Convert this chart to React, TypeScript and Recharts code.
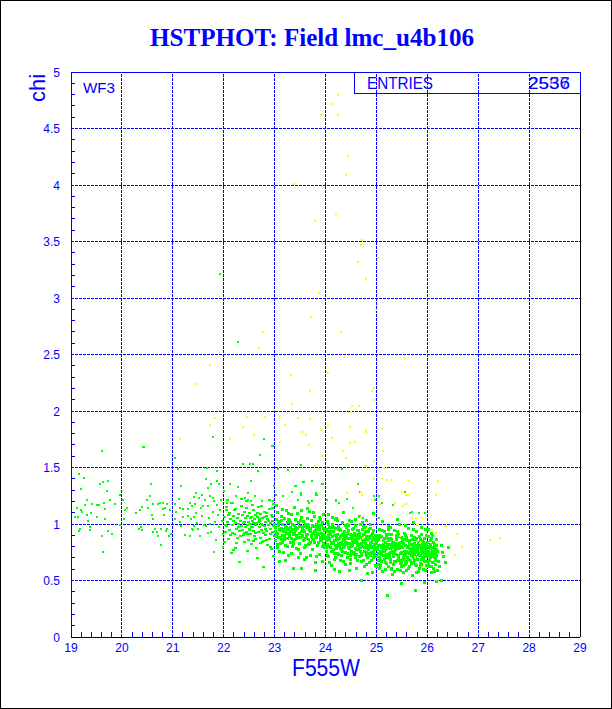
import React from 'react';
import { ScatterChart, Scatter, XAxis, YAxis, ReferenceLine } from 'recharts';

const W = 612;
const H = 709;
const BLUE = '#0000ff';
const FONT = '"Liberation Sans", Arial, sans-serif';

const xGrid = [20, 21, 22, 23, 24, 25, 26, 27, 28];
const yGrid = [0.5, 1, 1.5, 2, 2.5, 3, 3.5, 4, 4.5];

// flat [x, y, x, y, ...] lists
const greenLeft = [
  19.60,1.65, 20.43,1.68, 21.04,1.58, 21.11,1.49, 19.16,1.44, 19.25,1.41, 19.56,1.35, 19.63,1.37, 19.72,1.38, 20.57,1.35,
  21.16,1.34, 19.71,1.29, 19.20,1.31, 19.96,1.26, 20.55,1.25, 19.76,1.21, 19.31,1.21, 19.64,1.19, 19.86,1.18, 19.41,1.18,
  19.51,1.17, 19.55,1.17, 19.28,1.17, 19.12,1.14, 19.20,1.12, 19.22,1.11, 19.39,1.10, 19.67,1.13, 19.31,1.08, 19.08,1.06,
  19.13,1.06, 19.51,1.06, 19.33,1.03, 19.67,1.04, 20.03,1.21, 20.11,1.14, 20.06,1.12, 20.05,1.04, 19.96,0.99, 20.27,1.10,
  20.35,1.12, 20.39,1.15, 20.49,1.21, 20.61,1.18, 20.52,1.14, 20.70,1.18, 20.75,1.19, 20.81,1.19, 20.59,1.08, 20.62,1.04,
  20.81,1.13, 20.85,1.14, 20.89,1.18, 20.82,1.08, 20.94,1.12, 21.04,1.18, 21.12,1.22, 21.06,1.11, 21.14,1.14, 21.21,1.13,
  21.29,1.13, 21.34,1.19, 21.38,1.16, 21.20,1.06, 21.30,1.07, 21.41,1.06, 21.04,1.04, 21.14,1.02, 19.17,0.96, 19.38,0.97,
  19.37,0.95, 19.73,0.94, 19.80,0.91, 19.16,0.94, 19.60,0.89, 19.63,0.75, 20.34,0.96, 20.38,0.97, 20.39,0.95, 20.65,0.96,
  20.77,0.96, 20.89,0.96, 20.61,0.93, 20.68,0.93, 20.86,0.94, 20.70,0.89, 20.96,0.91, 20.93,0.89, 20.77,0.81, 21.16,0.98,
  21.24,0.90, 21.34,0.89, 21.37,0.96, 21.42,0.98,
];

const greenUpper = [
  21.78,1.77, 22.96,1.69, 22.79,1.75, 22.71,1.61, 22.37,1.53, 22.52,1.53, 22.58,1.53, 23.52,1.52, 23.26,1.48, 23.07,1.49,
  21.86,1.47, 21.68,1.50, 22.67,1.47, 21.65,1.40, 21.86,1.38, 21.90,1.35, 21.76,1.35, 22.12,1.35, 22.53,1.38, 23.58,1.37,
  22.99,1.34, 23.42,1.34, 21.69,1.32, 22.29,1.33, 22.01,1.29, 23.34,1.28, 22.48,1.27, 21.46,1.27, 21.57,1.26, 21.42,1.24,
  21.52,1.23, 21.73,1.25, 22.24,1.25, 22.41,1.23, 22.62,1.25, 23.03,1.26, 23.17,1.25, 23.51,1.26, 23.83,1.26, 21.64,1.21,
  21.78,1.23, 21.81,1.20, 21.94,1.21, 22.07,1.19, 22.18,1.19, 22.48,1.21, 22.54,1.20, 22.75,1.20, 22.96,1.20, 23.45,1.21,
  23.66,1.20, 23.73,1.20, 24.32,1.49, 23.96,1.35, 23.82,1.26, 24.63,1.35, 24.67,1.28, 24.95,1.25, 24.97,1.21, 25.56,1.28,
  25.69,1.11, 24.02,1.21, 24.20,1.21, 24.43,1.22, 24.55,1.14, 23.73,1.38, 23.56,1.37, 23.41,1.34, 23.94,1.35, 23.51,1.27,
  23.82,1.27, 24.21,1.20, 24.26,1.19, 23.67,1.19, 25.06,1.25, 25.11,1.19, 25.33,1.17, 25.66,1.10, 25.84,1.10, 25.96,1.10,
  25.06,1.05, 24.74,1.05, 22.29,2.61, 21.93,3.21, 22.95,1.69, 20.42,1.68,
];

const green21 = [
  21.36,1.04, 21.40,0.95, 21.45,1.10, 21.48,1.01, 21.53,0.89, 21.55,1.14, 21.58,1.07, 21.62,0.99, 21.66,0.98, 21.70,1.16,
  21.72,1.05, 21.75,0.93, 21.78,1.11, 21.80,0.75, 21.83,1.02, 21.85,0.86, 21.88,1.08, 21.91,0.97, 21.93,1.12, 21.96,1.03,
  21.99,0.80, 21.98,0.91, 21.43,1.18, 21.60,1.16, 21.69,0.92, 21.86,1.17, 21.50,0.96, 21.74,1.00,
];

const green22 = [
  22.02,1.06, 22.03,0.93, 22.05,1.15, 22.06,0.98, 22.08,1.02, 22.09,0.87, 22.11,1.10, 22.12,0.95, 22.14,1.04, 22.15,0.74,
  22.16,1.19, 22.18,0.99, 22.19,0.77, 22.20,1.07, 22.21,0.91, 22.23,1.01, 22.24,1.13, 22.25,0.96, 22.27,1.05, 22.28,0.88,
  22.29,1.09, 22.31,0.94, 22.32,0.66, 22.33,1.03, 22.34,1.16, 22.35,0.98, 22.37,1.08, 22.38,0.90, 22.39,1.01, 22.40,0.84,
  22.41,1.11, 22.42,0.97, 22.43,1.05, 22.44,0.93, 22.45,1.14, 22.46,0.99, 22.47,1.07, 22.48,0.86, 22.49,1.02, 22.50,0.95,
  22.51,1.10, 22.52,1.00, 22.53,0.91, 22.54,1.06, 22.55,0.82, 22.56,1.03, 22.57,0.97, 22.58,1.12, 22.59,0.94, 22.60,1.04,
  22.61,0.89, 22.62,1.08, 22.63,0.99, 22.64,0.79, 22.65,1.01, 22.66,0.70, 22.67,1.06, 22.68,0.93, 22.69,1.15, 22.70,0.97,
  22.71,1.03, 22.72,0.88, 22.73,1.09, 22.74,0.95, 22.75,1.00, 22.76,0.84, 22.77,1.05, 22.78,0.92, 22.79,0.62, 22.80,1.11,
  22.81,0.98, 22.82,1.02, 22.83,0.90, 22.84,1.07, 22.85,0.94, 22.86,0.81, 22.87,1.04, 22.88,0.99, 22.89,1.13, 22.90,0.87,
  22.91,1.01, 22.92,0.96, 22.93,1.08, 22.94,0.78, 22.95,1.03, 22.96,0.93, 22.97,1.18, 22.98,0.98, 22.99,0.89,
  22.04,0.99, 22.10,1.08, 22.17,0.92, 22.22,1.12, 22.26,0.83, 22.30,1.00, 22.36,0.95, 22.41,1.02, 22.44,1.20, 22.47,0.91,
  22.52,1.05, 22.55,0.97, 22.59,1.01, 22.62,0.92, 22.66,1.10, 22.70,1.04, 22.73,0.83, 22.77,0.99, 22.81,1.06, 22.84,0.86,
  22.88,1.03, 22.92,0.91, 22.96,1.06, 22.99,1.00,
  22.01,0.84, 22.07,1.21, 22.13,0.90, 22.19,1.03, 22.24,0.79, 22.29,0.97, 22.35,1.22, 22.40,0.92, 22.46,0.76, 22.51,0.96,
  22.57,1.17, 22.63,0.87, 22.68,1.02, 22.74,1.16, 22.79,0.85, 22.85,1.10, 22.91,0.80, 22.95,1.14, 22.98,0.72, 22.06,1.12,
  22.33,0.89, 22.58,0.85, 22.83,0.96, 22.90,1.21,
];

const green23 = [
  23.01,0.97, 23.02,0.85, 23.03,1.04, 23.04,0.91, 23.05,1.10, 23.06,0.79, 23.07,0.99, 23.08,0.88, 23.09,0.67, 23.10,1.02,
  23.11,0.94, 23.12,0.83, 23.13,1.07, 23.14,0.96, 23.15,0.90, 23.16,1.00, 23.17,0.75, 23.18,0.93, 23.19,1.05, 23.20,0.86,
  23.21,0.98, 23.22,0.81, 23.23,1.12, 23.24,0.92, 23.25,1.01, 23.26,0.87, 23.27,0.95, 23.28,0.72, 23.29,1.03, 23.30,0.89,
  23.31,0.97, 23.32,0.84, 23.33,1.08, 23.34,0.93, 23.35,0.80, 23.36,1.00, 23.37,0.61, 23.38,0.91, 23.39,0.99, 23.40,0.86,
  23.41,1.04, 23.42,0.94, 23.43,0.78, 23.44,0.96, 23.45,1.09, 23.46,0.88, 23.47,1.01, 23.48,0.83, 23.49,0.92, 23.50,0.98,
  23.51,0.74, 23.52,0.61, 23.53,1.06, 23.54,0.90, 23.55,0.95, 23.56,0.85, 23.57,1.02, 23.58,0.79, 23.59,0.93, 23.60,1.00,
  23.61,0.87, 23.62,0.97, 23.63,0.70, 23.64,1.05, 23.65,0.91, 23.66,0.82, 23.67,0.99, 23.68,0.94, 23.69,1.11, 23.70,0.84,
  23.71,0.96, 23.72,0.89, 23.73,1.03, 23.74,0.77, 23.75,0.92, 23.76,0.98, 23.77,0.86, 23.78,1.07, 23.79,0.93, 23.80,0.66,
  23.81,0.59, 23.82,1.00, 23.83,0.88, 23.84,0.95, 23.85,0.81, 23.86,1.02, 23.87,0.91, 23.88,0.97, 23.89,0.73, 23.90,0.85,
  23.91,1.04, 23.92,0.92, 23.93,0.99, 23.94,0.80, 23.95,0.89, 23.96,0.96, 23.97,1.08, 23.98,0.87, 23.99,0.94,
  23.02,0.93, 23.05,0.82, 23.08,1.01, 23.11,0.88, 23.14,1.03, 23.17,0.95, 23.20,0.90, 23.23,0.97, 23.26,0.80, 23.29,0.92,
  23.32,1.01, 23.35,0.95, 23.38,0.85, 23.41,0.97, 23.44,0.90, 23.47,0.77, 23.50,1.03, 23.53,0.93, 23.56,0.98, 23.59,0.86,
  23.62,0.91, 23.65,1.00, 23.68,0.83, 23.71,0.93, 23.74,0.99, 23.77,0.92, 23.80,0.90, 23.83,0.97, 23.86,0.84, 23.89,0.95,
  23.92,0.87, 23.95,1.01, 23.98,0.79, 23.03,0.89, 23.09,0.95, 23.15,0.84, 23.21,0.93, 23.27,1.04, 23.33,0.87, 23.39,0.92,
  23.45,0.96, 23.51,0.88, 23.57,0.94, 23.63,0.89, 23.69,0.96, 23.75,0.86, 23.81,0.94, 23.87,0.99, 23.93,0.85, 23.99,0.91,
  23.04,1.16, 23.10,0.76, 23.16,1.13, 23.22,0.68, 23.28,1.09, 23.34,0.74, 23.40,1.15, 23.46,0.70, 23.52,1.12, 23.58,0.69,
  23.64,1.14, 23.70,0.72, 23.76,1.10, 23.82,0.71, 23.88,1.06, 23.94,0.67, 23.13,0.86, 23.25,0.96, 23.37,0.83, 23.49,0.98,
  23.61,0.81, 23.73,0.90, 23.85,0.92, 23.97,0.83, 23.06,0.92, 23.19,0.88, 23.31,0.93, 23.43,0.87, 23.55,0.89, 23.67,0.86,
  23.79,0.84, 23.91,0.88,
];

const green24 = [
  24.00,0.88, 24.01,0.76, 24.02,0.95, 24.03,0.82, 24.04,1.02, 24.05,0.90, 24.06,0.71, 24.07,0.86, 24.08,0.97, 24.09,0.79,
  24.10,0.92, 24.11,0.84, 24.12,0.63, 24.13,0.89, 24.14,1.00, 24.15,0.77, 24.16,0.93, 24.17,0.85, 24.18,0.69, 24.19,0.96,
  24.20,0.81, 24.21,0.88, 24.22,1.05, 24.23,0.74, 24.24,0.91, 24.25,0.83, 24.26,0.98, 24.27,0.58, 24.28,0.87, 24.29,0.78,
  24.30,0.94, 24.31,0.72, 24.32,0.90, 24.33,0.82, 24.34,1.01, 24.35,0.86, 24.36,0.67, 24.37,0.93, 24.38,0.80, 24.39,0.89,
  24.40,0.75, 24.41,0.97, 24.42,0.84, 24.43,0.92, 24.44,0.70, 24.45,0.87, 24.46,0.79, 24.47,1.03, 24.48,0.83, 24.49,0.91,
  24.50,0.65, 24.51,0.88, 24.52,0.76, 24.53,0.95, 24.54,0.81, 24.55,0.90, 24.56,0.73, 24.57,0.86, 24.58,0.99, 24.59,0.78,
  24.60,0.89, 24.61,0.61, 24.62,0.84, 24.63,0.94, 24.64,0.77, 24.65,0.87, 24.66,0.71, 24.67,0.92, 24.68,0.82, 24.69,1.00,
  24.70,0.74, 24.71,0.88, 24.72,0.80, 24.73,0.95, 24.74,0.68, 24.75,0.85, 24.76,0.91, 24.77,0.76, 24.78,0.83, 24.79,0.97,
  24.80,0.72, 24.81,0.89, 24.82,0.56, 24.83,0.81, 24.84,0.93, 24.85,0.78, 24.86,0.87, 24.87,0.66, 24.88,0.84, 24.89,0.96,
  24.90,0.75, 24.91,0.90, 24.92,0.80, 24.93,0.86, 24.94,0.70, 24.95,0.94, 24.96,0.82, 24.97,0.88, 24.98,0.63, 24.99,0.79,
  24.01,0.85, 24.03,0.93, 24.06,0.80, 24.08,0.87, 24.11,0.76, 24.13,0.97, 24.16,0.83, 24.18,0.90, 24.21,0.78, 24.23,0.86,
  24.26,0.73, 24.28,0.95, 24.31,0.84, 24.33,0.91, 24.36,0.79, 24.38,0.88, 24.41,0.82, 24.43,0.74, 24.46,0.94, 24.48,0.87,
  24.51,0.80, 24.53,0.85, 24.56,0.92, 24.58,0.70, 24.61,0.86, 24.63,0.81, 24.66,0.90, 24.68,0.76, 24.71,0.83, 24.73,0.88,
  24.76,0.79, 24.78,0.93, 24.81,0.75, 24.83,0.86, 24.86,0.81, 24.88,0.72, 24.91,0.84, 24.93,0.92, 24.96,0.77, 24.98,0.85,
  24.02,0.79, 24.07,0.91, 24.12,0.83, 24.17,0.74, 24.22,0.89, 24.27,0.81, 24.32,0.77, 24.37,0.85, 24.42,0.90, 24.47,0.78,
  24.52,0.83, 24.57,0.75, 24.62,0.91, 24.67,0.80, 24.72,0.86, 24.77,0.84, 24.82,0.78, 24.87,0.89, 24.92,0.74, 24.97,0.81,
  24.05,1.08, 24.19,1.04, 24.35,1.10, 24.52,1.02, 24.66,1.07, 24.80,1.03, 24.94,1.09, 24.44,1.00, 24.13,1.06,
  24.00,0.81, 24.04,0.87, 24.09,0.93, 24.14,0.76, 24.19,0.85, 24.24,0.80, 24.29,0.89, 24.34,0.76, 24.39,0.83, 24.44,0.87,
  24.49,0.72, 24.54,0.88, 24.59,0.84, 24.64,0.82, 24.69,0.79, 24.74,0.91, 24.79,0.86, 24.84,0.77, 24.89,0.82, 24.94,0.87,
  24.99,0.90, 24.03,0.72, 24.08,0.66, 24.15,0.97, 24.20,0.70, 24.25,0.95, 24.30,0.68, 24.35,0.92, 24.40,0.64, 24.45,0.99,
  24.50,0.69, 24.55,0.96, 24.60,0.73, 24.65,0.94, 24.70,0.67, 24.75,0.98, 24.80,0.64, 24.85,0.95, 24.90,0.68, 24.95,0.76,
  24.98,0.71, 24.06,1.00, 24.24,1.03, 24.39,0.99, 24.58,1.04, 24.72,1.01, 24.88,1.00, 24.17,0.60, 24.47,0.59, 24.77,0.62,
  24.93,0.57, 24.51,0.74, 24.56,0.84, 24.61,0.77, 24.66,0.81, 24.71,0.72, 24.76,0.86, 24.81,0.80, 24.86,0.74, 24.91,0.79,
  24.96,0.73, 24.63,0.68, 24.83,0.70,
];

const green25 = [
  25.00,0.83, 25.01,0.71, 25.02,0.90, 25.03,0.77, 25.04,0.64, 25.05,0.86, 25.06,0.95, 25.07,0.74, 25.08,0.81, 25.09,0.68,
  25.10,0.89, 25.11,0.79, 25.12,0.58, 25.13,0.85, 25.14,0.72, 25.15,0.93, 25.16,0.76, 25.17,0.84, 25.18,0.66, 25.19,0.80,
  25.20,0.88, 25.21,0.70, 25.22,0.78, 25.23,0.98, 25.24,0.62, 25.25,0.82, 25.26,0.74, 25.27,0.87, 25.28,0.69, 25.29,0.79,
  25.30,0.91, 25.31,0.75, 25.32,0.55, 25.33,0.84, 25.34,0.71, 25.35,0.80, 25.36,0.94, 25.37,0.67, 25.38,0.77, 25.39,0.86,
  25.40,0.73, 25.41,0.60, 25.42,0.82, 25.43,0.89, 25.44,0.70, 25.45,0.78, 25.46,1.00, 25.47,0.65, 25.48,0.84, 25.49,0.75,
  25.50,0.88, 25.51,0.69, 25.52,0.79, 25.53,0.57, 25.54,0.83, 25.55,0.92, 25.56,0.72, 25.57,0.81, 25.58,0.64, 25.59,0.76,
  25.60,0.87, 25.61,0.70, 25.62,0.80, 25.63,0.96, 25.64,0.61, 25.65,0.74, 25.66,0.85, 25.67,0.68, 25.68,0.78, 25.69,0.90,
  25.70,0.73, 25.71,0.54, 25.72,0.82, 25.73,0.66, 25.74,0.77, 25.75,0.88, 25.76,0.71, 25.77,0.80, 25.78,0.63, 25.79,0.93,
  25.80,0.75, 25.81,0.69, 25.82,0.84, 25.83,0.58, 25.84,0.79, 25.85,0.72, 25.86,0.86, 25.87,0.65, 25.88,0.76, 25.89,0.91,
  25.90,0.70, 25.91,0.81, 25.92,0.60, 25.93,0.74, 25.94,0.87, 25.95,0.67, 25.96,0.78, 25.97,0.95, 25.98,0.63, 25.99,0.83,
  26.00,0.71, 26.01,0.76, 26.02,0.89, 26.03,0.62, 26.04,0.80, 26.05,0.68, 26.06,0.85, 26.07,0.73, 26.08,0.57, 26.09,0.79,
  26.10,0.66, 26.11,0.90, 26.12,0.74, 26.13,0.61, 26.14,0.82, 26.15,0.70, 26.16,0.77, 26.17,0.64, 26.18,0.86, 26.19,0.72,
  26.20,0.59,
  25.02,0.79, 25.05,0.68, 25.08,0.88, 25.11,0.73, 25.14,0.82, 25.17,0.77, 25.20,0.65, 25.23,0.85, 25.26,0.70, 25.29,0.86,
  25.32,0.76, 25.35,0.67, 25.38,0.83, 25.41,0.78, 25.44,0.91, 25.47,0.74, 25.50,0.80, 25.53,0.70, 25.56,0.86, 25.59,0.66,
  25.62,0.75, 25.65,0.83, 25.68,0.72, 25.71,0.79, 25.74,0.68, 25.77,0.86, 25.80,0.81, 25.83,0.74, 25.86,0.63, 25.89,0.78,
  25.92,0.84, 25.95,0.73, 25.98,0.80, 26.01,0.67, 26.04,0.75, 26.07,0.82, 26.10,0.71, 26.13,0.78, 26.16,0.68,
  25.03,0.87, 25.09,0.76, 25.15,0.69, 25.21,0.81, 25.27,0.78, 25.33,0.72, 25.39,0.79, 25.45,0.68, 25.51,0.85, 25.57,0.74,
  25.63,0.80, 25.69,0.76, 25.75,0.83, 25.81,0.77, 25.87,0.82, 25.93,0.69, 25.99,0.74, 26.05,0.79, 26.11,0.76, 26.17,0.73,
  25.12,1.02, 25.28,0.97, 25.42,1.04, 25.58,0.99, 25.73,1.01, 25.88,0.97, 26.03,0.95, 26.22,0.67, 26.24,0.62, 26.27,0.81,
  26.32,0.71, 26.18,0.77, 26.29,0.75, 26.35,0.66, 26.18,0.49, 26.27,0.50, 25.21,0.37, 25.76,0.41, 25.50,0.47, 24.71,0.50,
  25.95,0.48, 26.41,0.79,
  25.00,0.77, 25.04,0.81, 25.07,0.90, 25.10,0.67, 25.13,0.78, 25.16,0.87, 25.19,0.73, 25.22,0.82, 25.25,0.91, 25.28,0.75,
  25.31,0.84, 25.34,0.64, 25.37,0.79, 25.40,0.88, 25.43,0.72, 25.46,0.81, 25.49,0.66, 25.52,0.85, 25.55,0.76, 25.58,0.90,
  25.61,0.79, 25.64,0.69, 25.67,0.82, 25.70,0.86, 25.73,0.75, 25.76,0.64, 25.79,0.80, 25.82,0.73, 25.85,0.89, 25.88,0.69,
  25.91,0.75, 25.94,0.80, 25.97,0.71, 26.00,0.84, 26.03,0.76, 26.06,0.70, 26.09,0.87, 26.12,0.66, 26.15,0.80, 26.19,0.81,
  25.01,0.62, 25.06,0.61, 25.12,0.94, 25.18,0.60, 25.24,0.95, 25.30,0.61, 25.36,0.58, 25.42,0.93, 25.48,0.59, 25.54,0.63,
  25.60,0.59, 25.66,0.62, 25.72,0.95, 25.78,0.57, 25.84,0.61, 25.90,0.85, 25.96,0.59, 26.02,0.64, 26.08,0.92, 26.14,0.58,
  26.20,0.76, 25.05,0.74, 25.15,0.80, 25.25,0.71, 25.35,0.76, 25.45,0.83, 25.55,0.69, 25.65,0.78, 25.75,0.73, 25.85,0.80,
  25.95,0.76, 26.05,0.73, 26.15,0.75,
  25.02,0.85, 25.07,0.70, 25.12,0.76, 25.17,0.71, 25.22,0.87, 25.27,0.66, 25.32,0.81, 25.37,0.73, 25.42,0.68, 25.47,0.79,
  25.52,0.74, 25.57,0.67, 25.62,0.85, 25.67,0.76, 25.72,0.70, 25.77,0.75, 25.82,0.79, 25.87,0.72, 25.92,0.77, 25.97,0.83,
  26.02,0.72, 26.07,0.78, 26.12,0.84, 26.17,0.70, 25.09,0.63, 25.29,0.60, 25.49,0.62, 25.69,0.65, 25.89,0.64, 26.09,0.62,
  25.19,0.91, 25.39,0.90, 25.59,0.88, 25.79,0.87, 25.99,0.90,
];

const yellowPts = [
  24.25,4.80, 24.10,4.72, 23.91,4.62, 24.25,4.62, 24.45,4.26, 24.40,4.09, 23.38,4.01, 24.21,3.74, 23.79,3.68, 24.72,3.51,
  24.69,3.47, 25.03,3.35, 24.64,3.32, 24.80,3.17, 23.87,3.04, 24.99,2.89, 23.71,2.83, 22.77,2.70, 24.30,2.70, 22.69,2.56,
  24.36,2.48, 25.57,2.47, 21.74,2.41, 23.32,2.32, 24.05,2.34, 21.44,2.24, 23.70,2.18, 24.91,2.18, 24.95,2.20, 24.95,2.10,
  23.35,2.06, 24.53,2.04, 24.65,2.04, 22.99,2.01, 24.51,1.99, 23.11,1.96, 22.45,1.95, 22.81,1.95, 21.82,1.94, 23.45,1.94,
  23.70,1.93, 21.73,1.88, 23.20,1.88, 24.05,1.87, 24.48,1.86, 22.37,1.86, 25.11,1.84, 23.91,1.83, 24.80,1.82, 23.54,1.81,
  23.62,1.79, 22.60,1.79, 24.13,1.76, 22.12,1.75, 21.14,1.75, 23.11,1.73, 24.48,1.72, 24.57,1.73, 25.03,1.72, 23.67,1.70,
  24.34,1.65, 23.94,1.60, 24.40,1.58, 24.95,1.56, 25.12,1.65, 23.79,1.51, 24.80,1.51, 25.15,1.50, 24.95,1.40, 25.11,1.40,
  25.20,1.39, 25.28,1.39, 25.65,1.38, 26.21,1.38, 24.69,1.28, 24.72,1.26, 24.42,1.27, 25.50,1.28, 25.58,1.26, 25.62,1.26,
  26.17,1.26, 24.91,1.21, 25.36,1.19, 25.08,1.18, 25.59,1.18, 25.52,1.16, 25.31,1.06, 25.70,1.05, 25.77,1.05, 25.90,1.05,
  25.79,0.99, 26.09,0.95, 26.37,0.98, 26.58,0.91, 26.68,0.80, 26.18,0.92, 25.46,0.89, 25.86,0.83, 25.75,0.71, 25.90,0.62,
  24.70,1.06, 24.82,0.96, 24.74,0.88, 24.79,1.81, 27.23,0.86, 27.43,0.88, 26.54,0.73,
];

const toPoints = (flat: number[]) => {
  const out: { x: number; y: number }[] = [];
  for (let i = 0; i + 1 < flat.length; i += 2) out.push({ x: flat[i], y: flat[i + 1] });
  return out;
};

const greenSparse = toPoints([...greenLeft, ...greenUpper, ...green21]);
const greenMid = toPoints(green22);
const greenCore = toPoints([...green23, ...green24, ...green25]);
const yellowData = toPoints(yellowPts);

// minor tick positions (every 0.2 on x, every 0.1 on y)
const xTicks: number[] = [];
for (let i = 0; i <= 50; i++) xTicks.push(19 + i / 5);
const yTicks: number[] = [];
for (let i = 0; i <= 50; i++) yTicks.push(i / 10);

const isMajor = (v: number, step: number) => Math.abs(v / step - Math.round(v / step)) < 1e-6;

const XTick = (props: any) => {
  const { x, y, payload } = props;
  const v = payload.value;
  if (isMajor(v - 19, 1)) {
    return (
      <text x={x} y={y + 15} textAnchor="middle" fontSize={12} fill={BLUE} fontFamily={FONT}>
        {String(Math.round(v))}
      </text>
    );
  }
  return <line x1={x} x2={x} y1={y} y2={y - 5} stroke={BLUE} strokeWidth={1} />;
};

const YTick = (props: any) => {
  const { x, y, payload } = props;
  const v = payload.value;
  if (isMajor(v, 0.5)) {
    const r = Math.round(v * 10) / 10;
    return (
      <text x={x - 11} y={y + 4.5} textAnchor="end" fontSize={12} fill={BLUE} fontFamily={FONT}>
        {String(r)}
      </text>
    );
  }
  return <line x1={x} x2={x + 4} y1={y} y2={y} stroke={BLUE} strokeWidth={1} />;
};

const greenSmall = (p: any) => <rect x={p.cx - 1} y={p.cy - 1} width={2} height={2} fill="#00ff00" />;
const greenMidShape = (p: any) => <rect x={p.cx - 1.5} y={p.cy - 1} width={3} height={2} fill="#00ff00" />;
const greenCoreShape = (p: any) => <rect x={p.cx - 1.5} y={p.cy - 1.5} width={3} height={3} fill="#00ff00" />;
const yellowShape = (p: any) => <rect x={p.cx - 1} y={p.cy - 1} width={2} height={2} fill="#ffff00" />;

export default function App() {
  return (
    <div style={{ position: 'absolute', left: 0, top: 0, width: W, height: H, background: '#fff', shapeRendering: 'crispEdges' as any }}>
      <ScatterChart width={W} height={H} margin={{ top: 72, right: 32, left: 0, bottom: 0 }}>
        <XAxis
          type="number"
          dataKey="x"
          domain={[19, 29]}
          ticks={xTicks}
          interval={0}
          height={72}
          tickSize={0}
          tickMargin={0}
          tickLine={false}
          tick={<XTick />}
          axisLine={{ stroke: '#000000', strokeWidth: 1 }}
          allowDataOverflow
        />
        <YAxis
          type="number"
          dataKey="y"
          domain={[0, 5]}
          ticks={yTicks}
          interval={0}
          width={71}
          tickSize={0}
          tickMargin={0}
          tickLine={false}
          tick={<YTick />}
          axisLine={{ stroke: BLUE, strokeWidth: 1 }}
          allowDataOverflow
        />
        {xGrid.map((v) => (
          <ReferenceLine key={'gx' + v} x={v} stroke={BLUE} strokeWidth={1} strokeDasharray="3 1" />
        ))}
        {yGrid.map((v) => (
          <ReferenceLine key={'gy' + v} y={v} stroke={BLUE} strokeWidth={1} strokeDasharray="3 1" />
        ))}
        <ReferenceLine y={5} stroke={BLUE} strokeWidth={1} />
        <ReferenceLine x={29} stroke="#000000" strokeWidth={1} />
        <Scatter data={greenSparse} shape={greenSmall} isAnimationActive={false} />
        <Scatter data={greenMid} shape={greenMidShape} isAnimationActive={false} />
        <Scatter data={greenCore} shape={greenCoreShape} isAnimationActive={false} />
        <Scatter data={yellowData} shape={yellowShape} isAnimationActive={false} />
      </ScatterChart>
      <svg width={W} height={H} style={{ position: 'absolute', left: 0, top: 0, pointerEvents: 'none' }}>
        <rect x={0.5} y={0.5} width={W - 1} height={H - 1} fill="none" stroke="#000" strokeWidth={1} />
        <text x={312} y={46} textAnchor="middle" fontSize={25} fontWeight="bold" fill={BLUE}
          fontFamily='"Liberation Serif", "Times New Roman", serif' textLength={324} lengthAdjust="spacingAndGlyphs">
          HSTPHOT: Field lmc_u4b106
        </text>
        <rect x={354.5} y={72.5} width={226} height={21} fill="none" stroke={BLUE} strokeWidth={1} />
        <text x={367} y={89} fontSize={17} fill={BLUE} fontFamily={FONT} textLength={66} lengthAdjust="spacingAndGlyphs">ENTRIES</text>
        <text x={528} y={89} fontSize={17} fill={BLUE} fontFamily={FONT} textLength={42} lengthAdjust="spacingAndGlyphs">2536</text>
        <text x={528} y={89} fontSize={17} fill={BLUE} fontFamily={FONT} textLength={42} lengthAdjust="spacingAndGlyphs" opacity={0.6}>2557</text>
        <text x={83} y={93} fontSize={15} fill={BLUE} fontFamily={FONT} textLength={32} lengthAdjust="spacingAndGlyphs">WF3</text>
        <text x={45} y={88} fontSize={22} fill={BLUE} fontFamily={FONT} textAnchor="middle" transform="rotate(-90 45 88)">chi</text>
        <text x={292} y={676} fontSize={23} fill={BLUE} fontFamily={FONT} textLength={68} lengthAdjust="spacingAndGlyphs">F555W</text>
      </svg>
    </div>
  );
}
